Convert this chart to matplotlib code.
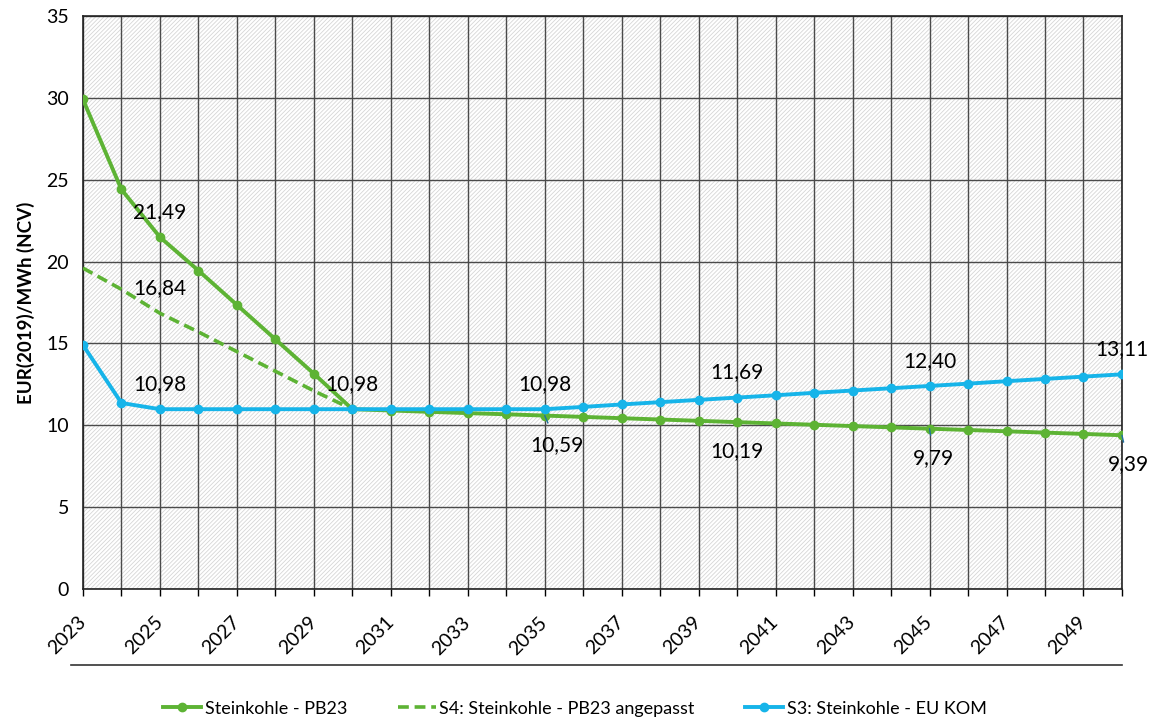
import numpy as np
import matplotlib.pyplot as plt
import matplotlib.transforms as mtransforms
from matplotlib.lines import Line2D
from matplotlib.patches import Rectangle

plt.rcParams['font.family'] = ['Lato', 'DejaVu Sans']
plt.rcParams['hatch.linewidth'] = 0.6

# Daten
jahre = list(range(2023, 2051))
pb23 = [29.9, 24.4, 21.49, 19.45, 17.35, 15.25, 13.15, 10.98,
        10.90, 10.82, 10.74, 10.67, 10.59, 10.51, 10.43, 10.35, 10.27, 10.19,
        10.11, 10.03, 9.95, 9.87, 9.79, 9.71, 9.63, 9.55, 9.47, 9.39]
s4_jahre = list(range(2023, 2031))
s4 = [19.6, 18.3, 16.84, 15.7, 14.5, 13.3, 12.1, 10.98]
s3 = [14.9, 11.36, 10.98, 10.98, 10.98, 10.98, 10.98, 10.98,
      10.98, 10.98, 10.98, 10.98, 10.98, 11.12, 11.27, 11.41, 11.55, 11.69,
      11.83, 11.98, 12.12, 12.26, 12.40, 12.54, 12.69, 12.83, 12.97, 13.11]

gruen = '#5db334'
blau = '#16b4e9'

fig = plt.figure(figsize=(11.57, 7.24), dpi=100)
ax = fig.add_axes([0.0717, 0.1865, 0.898, 0.7915])
ax.patch.set_facecolor('white')
# schraffierter Hintergrund
ax.add_patch(Rectangle((0, 0), 1, 1, transform=ax.transAxes, facecolor='white',
                       edgecolor='#d6d6d6', hatch='////////', lw=0, zorder=0))

ax.plot(jahre, pb23, color=gruen, lw=2.8, marker='o', ms=6, zorder=4,
        label='Steinkohle - PB23')
ax.plot(s4_jahre, s4, color=gruen, lw=2.6, ls=(0, (3, 1.6)), zorder=3,
        label='S4: Steinkohle - PB23 angepasst')
ax.plot(jahre, s3, color=blau, lw=2.8, marker='o', ms=6, zorder=5,
        label='S3: Steinkohle - EU KOM')

ax.set_xlim(2023, 2050)
ax.set_ylim(0, 35)
ax.set_xticks(range(2023, 2051))
ax.set_xticklabels([str(j) if (j - 2023) % 2 == 0 else '' for j in jahre],
                   rotation=45, fontsize=14, ha='right', va='center',
                   rotation_mode='anchor')
versatz = mtransforms.ScaledTranslation(7 / 100, 0, fig.dpi_scale_trans)
for lab in ax.get_xticklabels():
    lab.set_transform(lab.get_transform() + versatz)
ax.set_yticks(range(0, 36, 5))
ax.tick_params(axis='y', length=0, labelsize=14, pad=10)
ax.tick_params(axis='x', length=5, width=1, direction='out', pad=17)
ax.grid(True, color='#4a4a4a', lw=1)
ax.set_axisbelow(True)
for s in ax.spines.values():
    s.set_color('#222222')
    s.set_linewidth(1.2)
ax.set_ylabel('EUR(2019)/MWh (NCV)', fontsize=13.5, fontweight='bold', labelpad=8)

# Datenbeschriftungen
fs = 15
oben = [(2025, 21.49, '21,49'), (2025, 16.84, '16,84'), (2025, 10.98, '10,98'),
        (2030, 10.98, '10,98'), (2035, 10.98, '10,98'), (2040, 11.69, '11,69'),
        (2045, 12.40, '12,40'), (2050, 13.11, '13,11')]
for x, y, t in oben:
    ax.annotate(t, (x, y), xytext=(0, 18), textcoords='offset points',
                fontsize=fs, ha='center', va='center', zorder=6,
                annotation_clip=False)
unten = [(2035, 10.59, '10,59', 9, True), (2040, 10.19, '10,19', 0, False),
         (2045, 9.79, '9,79', 3, True), (2050, 9.39, '9,39', 5, True)]
for x, y, t, dx, linie in unten:
    ax.annotate(t, (x, y), xytext=(dx, -21), textcoords='offset points',
                fontsize=fs, ha='center', va='center', zorder=6,
                arrowprops=dict(arrowstyle='-', color='#1f6fa0', lw=1,
                                shrinkA=7, shrinkB=0) if linie else None,
                annotation_clip=False)

# Linie unter der Achse
fig.add_artist(Line2D([0.061, 0.9697], [0.082, 0.082], color='#333333', lw=1.2))

fig.legend(loc='center', bbox_to_anchor=(0.497, 0.021), ncol=3,
           frameon=False, fontsize=13, handlelength=2.1, columnspacing=2.8,
           handletextpad=0.2)

fig.savefig('out.png', dpi=100)
